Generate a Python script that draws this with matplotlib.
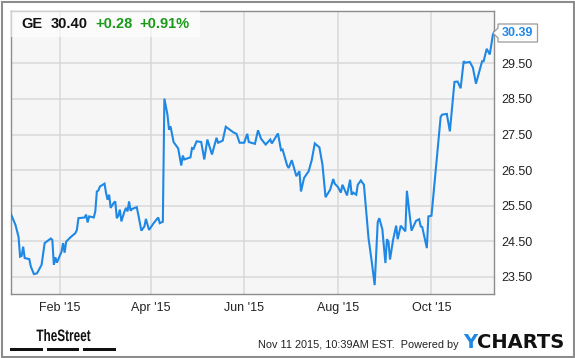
import numpy as np
import pandas as pd
import matplotlib
matplotlib.use("Agg")
import matplotlib.pyplot as plt
import matplotlib.dates as mdates
from matplotlib.patches import Rectangle, Polygon, PathPatch
from matplotlib.textpath import TextPath
from matplotlib.font_manager import FontProperties
from matplotlib.transforms import Affine2D

plt.rcParams['font.family'] = ['Liberation Sans', 'DejaVu Sans']

# -----------------------------
# DATA (GE close, 2015) -- day = days after Dec 31 2014
# -----------------------------
day = [0, 3, 5, 6, 7, 8, 9, 12, 13, 15, 17, 20, 22, 26, 27, 28, 29, 30,
       33, 34, 35, 36, 39, 42, 43, 44, 48, 49, 50, 51, 54, 55, 56, 57, 58,
       61, 62, 63, 64, 65, 67, 68, 69, 70, 71, 72, 74, 75, 76, 77, 78, 79,
       82, 83, 85, 87, 88, 90, 93, 96, 97, 99, 100, 102, 103, 104, 106, 109,
       111, 112, 113, 117, 118, 119, 121, 124, 126, 128, 131, 134, 135, 138,
       140, 145, 147, 149, 152, 154, 155, 159, 161, 163, 166, 169, 170, 174,
       176, 177, 180, 181, 183, 186, 188, 189, 191, 194, 196, 198, 201, 203,
       205, 208, 210, 211, 213, 215, 216, 219, 221, 222, 223, 225, 226, 228,
       230, 233, 235, 237, 239, 240, 242, 244, 245, 246, 247, 249, 251, 252,
       254, 257, 258, 261, 264, 266, 267, 268, 271, 272, 274, 275, 277, 280,
       281, 284, 286, 289, 291, 293, 295, 296, 299, 301, 303, 307, 308, 310,
       312, 314, 315]
price = [25.27, 24.96, 24.62, 24.07, 24.09, 24.35, 24.03, 24.00, 23.79, 23.58,
         23.60, 23.84, 24.45, 24.58, 24.54, 23.84, 24.05, 23.90, 24.21, 24.45,
         24.18, 24.49, 24.62, 24.73, 24.82, 25.15, 25.17, 25.25, 25.03, 25.20,
         25.17, 25.34, 25.90, 25.93, 26.04, 26.12, 25.86, 25.67, 25.81, 25.44,
         25.58, 25.62, 25.15, 25.22, 25.39, 25.06, 25.34, 25.44, 25.34, 25.62,
         25.36, 25.41, 25.46, 25.25, 24.80, 24.92, 25.13, 24.82, 25.01, 25.17,
         25.01, 25.05, 28.51, 28.06, 27.64, 27.73, 27.29, 27.11, 26.63, 26.91,
         26.80, 26.86, 27.12, 27.10, 27.31, 27.29, 26.80, 27.36, 26.94, 27.41,
         27.27, 27.33, 27.72, 27.56, 27.52, 27.27, 27.27, 27.52, 27.29, 27.24,
         27.62, 27.38, 27.22, 27.36, 27.25, 27.53, 27.06, 27.08, 26.63, 26.56,
         26.78, 26.33, 26.47, 25.90, 26.28, 26.47, 26.78, 27.25, 27.14, 26.65,
         25.74, 25.95, 26.25, 26.12, 26.03, 25.87, 26.09, 25.79, 26.23, 25.81,
         25.87, 25.81, 26.09, 26.21, 26.09, 24.59, 23.96, 23.27, 25.04, 25.15,
         24.84, 23.89, 24.56, 24.49, 23.99, 24.54, 24.94, 24.56, 24.94, 24.78,
         25.92, 24.80, 25.08, 25.12, 24.92, 24.90, 24.31, 25.20, 25.22, 25.67,
         26.61, 28.00, 28.06, 28.08, 27.59, 28.98, 28.99, 28.80, 29.56, 29.52,
         29.54, 29.38, 28.93, 29.56, 29.56, 29.91, 29.75, 30.30, 30.39]

yticks = [23.5, 24.5, 25.5, 26.5, 27.5, 28.5, 29.5]
last_price = "30.39"
header = [("GE", "#111111"), ("30.40", "#111111"), ("+0.28", "#1a9a1a"), ("+0.91%", "#1a9a1a")]

dates = pd.Timestamp("2014-12-31") + pd.to_timedelta(day, unit="D")

# -----------------------------
# FIGURE
# -----------------------------
fig = plt.figure(figsize=(5.75, 3.58), dpi=100)
W, H = 575, 358
ax = fig.add_axes([10.5 / W, 1 - 294 / H, (494 - 10.5) / W, (294 - 10.7) / H])
ax.set_facecolor("#f6f6f6")

line_color = "#1f88e5"
ax.plot(dates, price, color=line_color, lw=1.5, solid_joinstyle="miter", zorder=3)

ax.set_ylim(23.02, 30.98)
ax.set_xlim(pd.Timestamp("2014-12-31") - pd.Timedelta(hours=6),
            pd.Timestamp("2015-11-11") - pd.Timedelta(hours=6))

ax.set_yticks(yticks)
ax.set_yticklabels([f"{v:.2f}" for v in yticks])
ax.yaxis.tick_right()
ax.xaxis.set_major_locator(mdates.MonthLocator(bymonth=[2, 4, 6, 8, 10]))
ax.xaxis.set_major_formatter(mdates.DateFormatter("%b '%y"))
ax.tick_params(length=0, labelsize=9, colors="#222222")
ax.tick_params(axis="y", pad=5)
ax.tick_params(axis="x", pad=6)
ax.grid(True, color="#d8d8d8", lw=1.1, zorder=0)
for s in ax.spines.values():
    s.set_color("#8c8c8c")
    s.set_linewidth(1.0)

# header box
fig.patches.append(Rectangle((11 / W, 1 - 36.7 / H), 189 / W, 25.5 / H,
                             transform=fig.transFigure, facecolor="white",
                             alpha=0.6, edgecolor="none", zorder=5))
hx = [21.5, 50.5, 95, 139.3]
for (txt, c), x in zip(header, hx):
    fig.text(x / W, 1 - 28.5 / H, txt, color=c, fontsize=10.5,
             fontweight="bold", va="baseline", ha="left", zorder=6)

# last price tag
fig.patches.append(Polygon([(493 / W, 1 - 33 / H), (498 / W, 1 - 28 / H),
                            (498 / W, 1 - 24 / H), (537.5 / W, 1 - 24 / H),
                            (537.5 / W, 1 - 42 / H), (498 / W, 1 - 42 / H),
                            (498 / W, 1 - 38 / H)],
                           closed=True, transform=fig.transFigure,
                           facecolor="white", edgecolor="#9a9a9a", lw=0.9, zorder=6))
fig.text(517.5 / W, 1 - 33 / H, last_price, color=line_color, fontsize=9,
         fontweight="bold", ha="center", va="center", zorder=7)

# footer: condensed "TheStreet" logo (text path squeezed horizontally)
tp = TextPath((0, 0), "TheStreet", size=16,
              prop=FontProperties(family="Liberation Sans", weight="bold"))
bb = tp.get_extents()
sx = 54 / bb.width
sy = 12 / (bb.height - (0 - bb.y0))
logo_tr = Affine2D().translate(-bb.x0, 0).scale(sx, sy).translate(36.5, H - 341)
fig.patches.append(PathPatch(logo_tr.transform_path(tp), facecolor="#111111",
                             edgecolor="none", transform=None))
for x0, x1 in [(10, 42.7), (46.7, 79.3), (83.3, 116)]:
    fig.patches.append(Rectangle((x0 / W, 1 - 351 / H), (x1 - x0) / W, 2.6 / H,
                                 transform=fig.transFigure, facecolor="#111111",
                                 edgecolor="none"))
fig.text(459 / W, 1 - 348 / H, "Nov 11 2015, 10:39AM EST.  Powered by",
         fontsize=7.8, ha="right", va="baseline", color="#222222")
fig.text(463 / W, 1 - 348 / H, "Y", fontsize=14, fontweight="bold",
         ha="left", va="baseline", color="#1f88e5", family=["DejaVu Sans"])
fig.text(477 / W, 1 - 348 / H, "CHARTS", fontsize=14, fontweight="bold",
         ha="left", va="baseline", color="#111111", family=["DejaVu Sans"])

# outer frame
fig.patches.append(Rectangle((1.5 / W, 1.5 / H), (W - 3) / W, (H - 3) / H,
                             transform=fig.transFigure, facecolor="none",
                             edgecolor="#8c8c8c", lw=1.5))

fig.savefig("out.png", dpi=100)
